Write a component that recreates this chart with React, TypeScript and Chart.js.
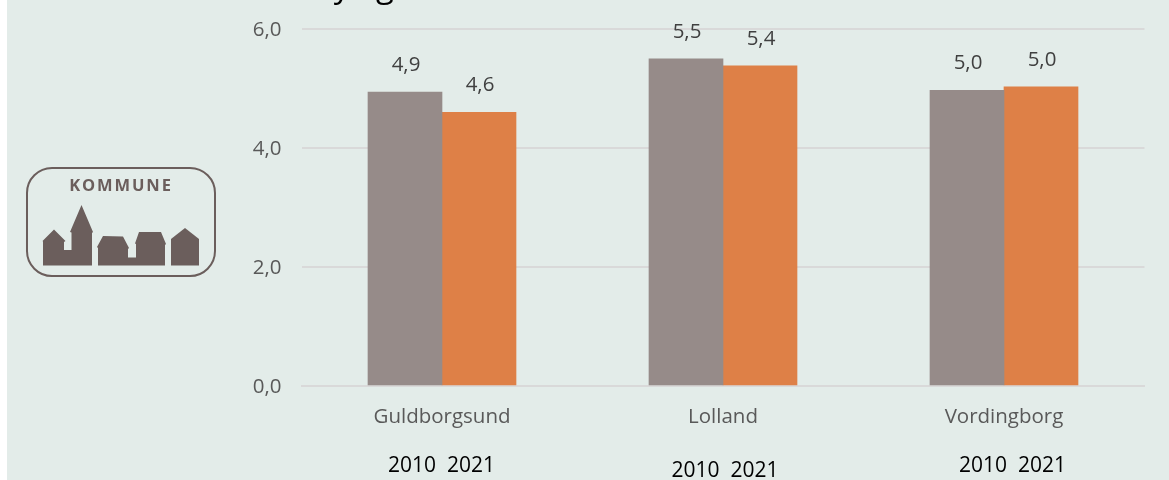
import React, { useEffect, useRef } from "react";
import { Chart, registerables } from "chart.js";

Chart.register(...registerables);

const categories = ["Guldborgsund", "Lolland", "Vordingborg"];
const values2010 = [4.94, 5.5, 4.97];
const values2021 = [4.6, 5.38, 5.03];
const yearLabels = ["2010  2021", "2010  2021", "2010  2021"];
const yearLabelOffsets = [-0.5, 2, 8.5];
const yearLabelY = [466, 471, 466];
const FONT = '"Open Sans", sans-serif';
const fmt = (v: number) => v.toFixed(1).replace(".", ",");

const backdrop = {
  id: "backdrop",
  beforeDraw(chart: any) {
    const { ctx, width, height } = chart;
    ctx.save();
    ctx.fillStyle = "#ffffff";
    ctx.fillRect(0, 0, width, height);
    ctx.fillStyle = "#e3ece9";
    ctx.fillRect(7, 0, width - 7, height);
    // clipped title fragment
    ctx.fillStyle = "#000000";
    ctx.font = `33px ${FONT}`;
    ctx.textAlign = "center";
    ctx.textBaseline = "alphabetic";
    ctx.fillText("y", 342, -3);
    ctx.fillText("g", 385, -3);
    // logo
    ctx.strokeStyle = "#6b5e5c";
    ctx.lineWidth = 2;
    ctx.beginPath();
    ctx.roundRect(27, 168, 188, 108, 25);
    ctx.stroke();
    ctx.fillStyle = "#6b5e5c";
    ctx.fill(new Path2D("M43 265.5V241.5L42.5 241L54 229.5L65.5 241L64 242V250H71.5V232.5L70 232L81.5 205L93 232L92 233V265.5Z"));
    ctx.fill(new Path2D("M98 265.5V248L97 247L103 236L123 236.5L129 248L128 249V257.5H136V244L135 243.5L139 232H161L166 244L165 245V265.5Z"));
    ctx.fill(new Path2D("M171 265.5V239L185 228L199 239V265.5Z"));
    ctx.font = `bold 16.5px ${FONT}`;
    (ctx as any).letterSpacing = "1.9px";
    ctx.textBaseline = "middle";
    ctx.fillText("KOMMUNE", 121, 186);
    ctx.restore();
  },
};

const annotations = {
  id: "annotations",
  afterDatasetsDraw(chart: any) {
    const { ctx } = chart;
    const x = chart.scales.x;
    ctx.save();
    ctx.textAlign = "center";
    ctx.textBaseline = "middle";
    ctx.font = `20.5px ${FONT}`;
    ctx.fillStyle = "#404040";
    chart.data.datasets.forEach((_: any, di: number) => {
      const meta = chart.getDatasetMeta(di);
      meta.data.forEach((bar: any, i: number) => {
        ctx.fillText(fmt(chart.data.datasets[di].data[i]), bar.x + 1, bar.y - 27);
      });
    });
    ctx.font = `21px ${FONT}`;
    ctx.fillStyle = "#000000";
    yearLabels.forEach((t, i) => {
      ctx.fillText(t, x.getPixelForValue(i) + yearLabelOffsets[i], yearLabelY[i]);
    });
    ctx.restore();
  },
};

export default function App() {
  const ref = useRef<HTMLCanvasElement>(null);
  useEffect(() => {
    document.body.style.margin = "0";
    document.body.style.overflow = "hidden";
    const chart = new Chart(ref.current!, {
      type: "bar",
      data: {
        labels: categories,
        datasets: [
          { label: "2010", data: values2010, backgroundColor: "#968b89", barThickness: 74 },
          { label: "2021", data: values2021, backgroundColor: "#de8047", barThickness: 74 },
        ],
      },
      options: {
        animation: false,
        responsive: false,
        layout: { padding: { top: 29, right: 24.5, left: 0, bottom: 0 } },
        plugins: { legend: { display: false }, tooltip: { enabled: false }, title: { display: false } },
        scales: {
          x: {
            grid: { display: false, drawTicks: false },
            border: { color: "#d9d9d9", width: 2 },
            ticks: { color: "#595959", font: { family: FONT, size: 20.5 }, padding: 19, maxRotation: 0 },
            afterFit: (s: any) => { s.height = 94; s.paddingLeft = 0; s.paddingRight = 0; },
          },
          y: {
            min: 0,
            max: 6,
            grid: { color: "#d9d9d9", lineWidth: 2, drawTicks: false },
            border: { display: false },
            ticks: { stepSize: 2, color: "#595959", font: { family: FONT, size: 20.5 }, padding: 20, labelOffset: 1.5, callback: (v: any) => fmt(Number(v)) },
            afterFit: (s: any) => { s.width = 301.5; s.paddingTop = 0; s.paddingBottom = 0; },
          },
        },
      },
      plugins: [backdrop, annotations],
    } as any);
    return () => chart.destroy();
  }, []);
  return <canvas ref={ref} width={1169} height={480} style={{ display: "block" }} />;
}
